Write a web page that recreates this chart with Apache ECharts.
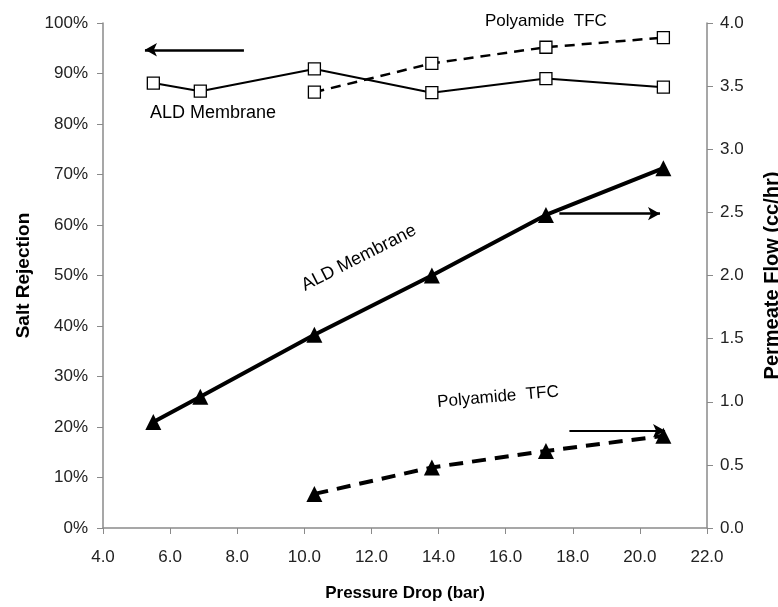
<!DOCTYPE html>
<html>
<head>
<meta charset="utf-8">
<script src="https://cdn.jsdelivr.net/npm/echarts@6/dist/echarts.min.js"></script>
<style>
  html, body { margin: 0; padding: 0; background: #fff; }
  #chart { width: 778px; height: 607px; }
</style>
</head>
<body>
<div id="chart"></div>
<script>
// Pressure drop across the membrane (bar)
const pressureAll = [5.5, 6.9, 10.3, 13.8, 17.2, 20.7];
const pressureTFC = [10.3, 13.8, 17.2, 20.7];

// Salt rejection (%)
const rejectionALD = [88.1, 86.5, 90.9, 86.2, 89.0, 87.3];
const rejectionTFC = [86.3, 92.0, 95.2, 97.1];

// Permeate flow (cc/hr)
const flowALD = [0.84, 1.04, 1.53, 2.0, 2.48, 2.85];
const flowTFC = [0.27, 0.48, 0.61, 0.73];

const FONT = '"Liberation Sans", Arial, sans-serif';
const NARROW = '"Liberation Sans Narrow", "Liberation Sans", Arial, sans-serif';

const pairs = (xs, ys) => xs.map((x, i) => [x, ys[i]]);

const squareStyle = { color: '#fff', borderColor: '#000', borderWidth: 1.3 };

function arrowLine(from, to, width) {
  return {
    silent: true,
    symbol: ['none', 'arrow'],
    symbolSize: [10, 12],
    label: { show: false },
    lineStyle: { color: '#000', width: width, type: 'solid' },
    data: [[{ coord: from }, { coord: to }]]
  };
}

const chart = echarts.init(document.getElementById('chart'));
chart.setOption({
  animation: false,
  backgroundColor: '#fff',
  grid: { left: 103, right: 71, top: 23, bottom: 79, outerBoundsMode: 'none', containLabel: false },
  xAxis: {
    type: 'value', min: 4, max: 22, interval: 2,
    name: 'Pressure Drop (bar)', nameLocation: 'middle', nameGap: 57,
    nameTextStyle: { fontFamily: NARROW, fontWeight: 'bold', fontSize: 17, color: '#000' },
    axisLine: { lineStyle: { color: '#8a8a8a', width: 1.5 } },
    axisTick: { show: true, inside: false, length: 6, lineStyle: { color: '#8a8a8a' } },
    axisLabel: { formatter: v => v.toFixed(1), fontFamily: FONT, fontSize: 17, color: '#222', margin: 21 },
    splitLine: { show: false }
  },
  yAxis: [
    {
      type: 'value', min: 0, max: 100, interval: 10, position: 'left',
      name: 'Salt Rejection', nameLocation: 'middle', nameGap: 70, nameRotate: 90,
      nameTextStyle: { fontFamily: NARROW, fontWeight: 'bold', fontSize: 19, color: '#000' },
      axisLine: { show: true, lineStyle: { color: '#8a8a8a', width: 1.5 } },
      axisTick: { show: true, length: 6, lineStyle: { color: '#8a8a8a' } },
      axisLabel: { formatter: '{value}%', fontFamily: FONT, fontSize: 17, color: '#222', margin: 15 },
      splitLine: { show: false }
    },
    {
      type: 'value', min: 0, max: 4, interval: 0.5, position: 'right',
      name: 'Permeate Flow (cc/hr)', nameLocation: 'middle', nameGap: 55, nameRotate: 90,
      nameTextStyle: { fontFamily: NARROW, fontWeight: 'bold', fontSize: 20, color: '#000' },
      axisLine: { show: true, lineStyle: { color: '#8a8a8a', width: 1.5 } },
      axisTick: { show: true, length: 6, lineStyle: { color: '#8a8a8a' } },
      axisLabel: { formatter: v => v.toFixed(1), fontFamily: FONT, fontSize: 17, color: '#222', margin: 13 },
      splitLine: { show: false }
    }
  ],
  series: [
    {
      name: 'ALD rejection', type: 'line', yAxisIndex: 0,
      data: pairs(pressureAll, rejectionALD),
      symbol: 'rect', symbolSize: 12, itemStyle: squareStyle,
      lineStyle: { color: '#000', width: 2 },
      z: 3,
      markLine: arrowLine([8.2, 94.7], [5.25, 94.7], 2.5)
    },
    {
      name: 'TFC rejection', type: 'line', yAxisIndex: 0,
      data: pairs(pressureTFC, rejectionTFC),
      symbol: 'rect', symbolSize: 12, itemStyle: squareStyle,
      lineStyle: { color: '#000', width: 2.5, type: [10, 7] },
      z: 3
    },
    {
      name: 'ALD flow', type: 'line', yAxisIndex: 1,
      data: pairs(pressureAll, flowALD),
      symbol: 'triangle', symbolSize: 16, itemStyle: { color: '#000' },
      lineStyle: { color: '#000', width: 4 },
      markLine: arrowLine([17.6, 2.49], [20.6, 2.49], 2.5)
    },
    {
      name: 'TFC flow', type: 'line', yAxisIndex: 1,
      data: pairs(pressureTFC, flowTFC),
      symbol: 'triangle', symbolSize: 16, itemStyle: { color: '#000' },
      lineStyle: { color: '#000', width: 4, type: [14, 9] },
      markLine: arrowLine([17.9, 0.77], [20.75, 0.77], 2)
    }
  ],
  graphic: [
    { type: 'text', left: 485, top: 13, style: { text: 'Polyamide  TFC', font: '17px ' + FONT, fill: '#000' } },
    { type: 'text', left: 150, top: 104, style: { text: 'ALD Membrane', font: '18px ' + FONT, fill: '#000' } },
    { type: 'text', x: 359, y: 258, rotation: 27 * Math.PI / 180,
      style: { text: 'ALD Membrane', font: '18px ' + FONT, fill: '#000', align: 'center', verticalAlign: 'middle' } },
    { type: 'text', x: 498, y: 397, rotation: 5 * Math.PI / 180,
      style: { text: 'Polyamide  TFC', font: '17px ' + FONT, fill: '#000', align: 'center', verticalAlign: 'middle' } }
  ]
});
</script>
</body>
</html>
